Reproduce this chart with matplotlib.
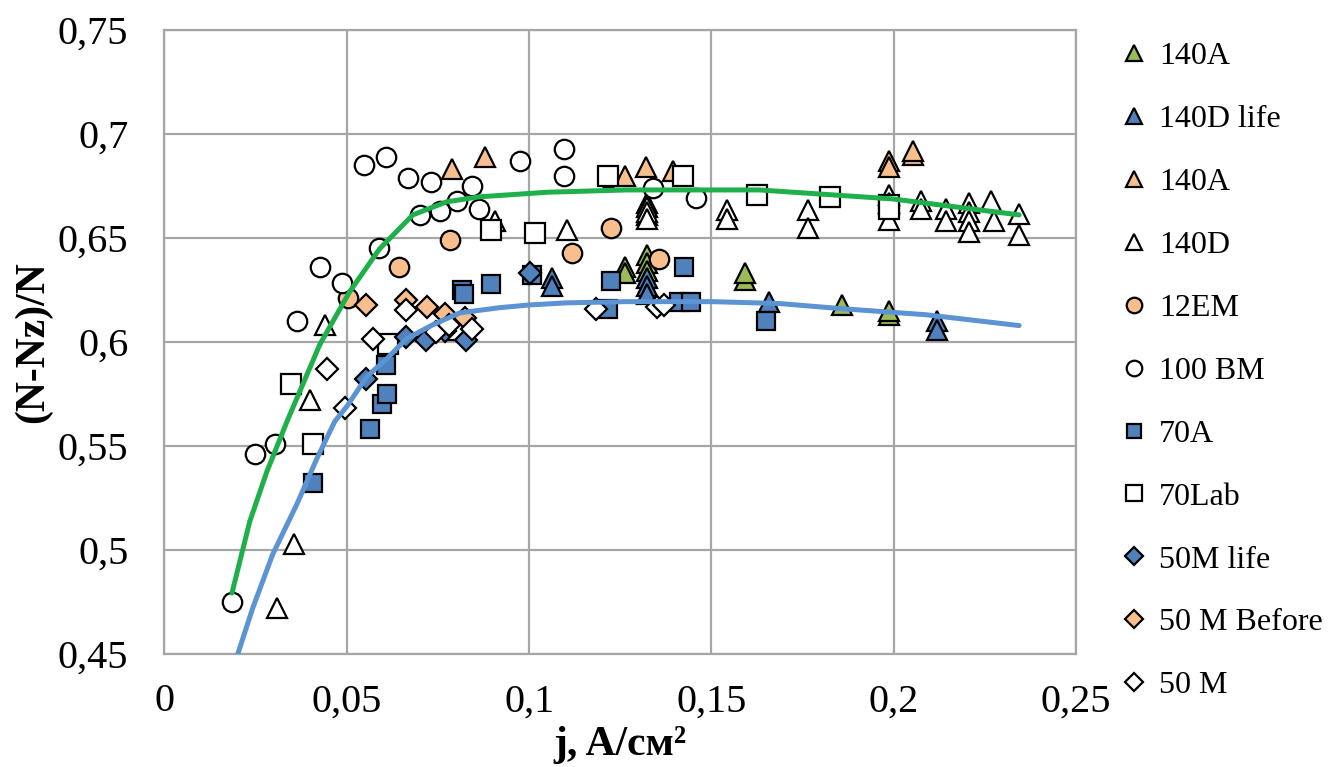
import matplotlib
matplotlib.use("Agg")
import matplotlib.pyplot as plt

# ---- data ----
a140_green_x = [0.1262, 0.1262, 0.1323, 0.1323, 0.1323, 0.1591, 0.1591, 0.1857, 0.1988, 0.1988]
a140_green_y = [0.636, 0.633, 0.642, 0.638, 0.634, 0.630, 0.633, 0.618, 0.613, 0.615]

d140_life_x = [0.1062, 0.1062, 0.1323, 0.1323, 0.1323, 0.1657, 0.2119, 0.2119]
d140_life_y = [0.631, 0.627, 0.631, 0.627, 0.623, 0.619, 0.610, 0.606]

a140_orange_x = [0.0789, 0.0879, 0.1262, 0.1320, 0.1394, 0.1988, 0.1988, 0.2054, 0.2054]
a140_orange_y = [0.683, 0.689, 0.680, 0.684, 0.682, 0.687, 0.684, 0.690, 0.692]

d140_x = [0.0309, 0.0356, 0.0400, 0.0441, 0.0906, 0.1104, 0.1323, 0.1323, 0.1323, 0.1323,
          0.1323, 0.1544, 0.1544, 0.1766, 0.1766, 0.1988, 0.1988, 0.1988, 0.2076, 0.2076,
          0.2144, 0.2144, 0.2207, 0.2207, 0.2207, 0.2207, 0.2267, 0.2275, 0.2344, 0.2344]
d140_y = [0.472, 0.503, 0.572, 0.608, 0.658, 0.654, 0.661, 0.667, 0.665, 0.6625,
          0.659, 0.6635, 0.659, 0.6635, 0.655, 0.6707, 0.6587, 0.667, 0.668, 0.664,
          0.664, 0.658, 0.667, 0.6625, 0.658, 0.653, 0.668, 0.658, 0.6616, 0.6515]

em12_x = [0.0783, 0.0643, 0.0504, 0.1224, 0.1117, 0.1355]
em12_y = [0.649, 0.636, 0.621, 0.655, 0.643, 0.640]

bm100_x = [0.0184, 0.0249, 0.0304, 0.0364, 0.0427, 0.0487, 0.0548, 0.0608, 0.0589, 0.0668, 0.0731,
           0.0701, 0.0756, 0.0802, 0.0843, 0.0863, 0.0975, 0.1095, 0.1095, 0.1216, 0.1339, 0.1457]
bm100_y = [0.475, 0.546, 0.551, 0.610, 0.636, 0.6285, 0.685, 0.689, 0.645, 0.679, 0.677,
           0.661, 0.663, 0.668, 0.675, 0.664, 0.687, 0.693, 0.680, 0.679, 0.674, 0.669]

a70_x = [0.0408, 0.0564, 0.0597, 0.0611, 0.0608, 0.0816, 0.0821, 0.0895, 0.1008, 0.1224,
         0.1216, 0.1424, 0.1410, 0.1443, 0.1651]
a70_y = [0.532, 0.558, 0.570, 0.575, 0.589, 0.625, 0.623, 0.628, 0.632, 0.6295,
         0.616, 0.636, 0.619, 0.619, 0.610]

lab70_x = [0.0348, 0.0408, 0.0613, 0.0800, 0.0895, 0.1016, 0.1216, 0.1421, 0.1624, 0.1824, 0.1988, 0.1988]
lab70_y = [0.580, 0.551, 0.599, 0.606, 0.654, 0.6525, 0.680, 0.680, 0.6707, 0.6698, 0.666, 0.664]

m50_life_x = [0.0553, 0.0663, 0.0717, 0.0769, 0.0827, 0.1002]
m50_life_y = [0.582, 0.6026, 0.601, 0.6055, 0.601, 0.633]

m50_before_x = [0.0553, 0.0663, 0.0720, 0.0769, 0.0824]
m50_before_y = [0.618, 0.620, 0.617, 0.6136, 0.6117]

m50_x = [0.0446, 0.0496, 0.0572, 0.0663, 0.0745, 0.0780, 0.0843, 0.1183, 0.1350, 0.1369]
m50_y = [0.587, 0.5685, 0.6016, 0.6155, 0.605, 0.6083, 0.6064, 0.616, 0.617, 0.618]

# trend curves
green_x = [0.0185, 0.0234, 0.0281, 0.0336, 0.0371, 0.0426, 0.0508, 0.0590, 0.0681, 0.0774,
           0.0864, 0.1050, 0.1267, 0.1631, 0.1996, 0.2344]
green_y = [0.4793, 0.5138, 0.5378, 0.5618, 0.5762, 0.5988, 0.6242, 0.6448, 0.6611, 0.6674,
           0.6698, 0.6720, 0.6731, 0.6731, 0.6688, 0.6611]
blue_x = [0.0201, 0.0242, 0.0297, 0.0363, 0.0418, 0.0467, 0.0500, 0.0555, 0.0610, 0.0664,
          0.0736, 0.0810, 0.0919, 0.1000, 0.1100, 0.1267, 0.1503, 0.1686, 0.1859, 0.2089, 0.2344]
blue_y = [0.450, 0.4721, 0.498, 0.522, 0.544, 0.5618, 0.569, 0.5834, 0.592, 0.6016,
          0.6083, 0.6140, 0.6165, 0.6178, 0.6188, 0.6194, 0.6194, 0.6185, 0.616, 0.6131, 0.6079]

GREEN = "#9BBB59"
BLUE = "#4F81BD"
ORANGE = "#F9BE8E"

plt.rcParams['font.family'] = ['Liberation Serif', 'DejaVu Serif']

fig = plt.figure(figsize=(13.33, 7.67), dpi=100)
ax = fig.add_axes([0.1234, 0.1473, 0.6838, 0.8136])

# (x, y, marker, face, size, label)
series = [
    (a140_green_x, a140_green_y, '^', GREEN, 14, '140A'),
    (d140_life_x, d140_life_y, '^', BLUE, 14, '140D life'),
    (a140_orange_x, a140_orange_y, '^', ORANGE, 14, '140A'),
    (d140_x, d140_y, '^', 'white', 14, '140D'),
    (em12_x, em12_y, 'o', ORANGE, 14, '12EM'),
    (bm100_x, bm100_y, 'o', 'white', 14, '100 BM'),
    (a70_x, a70_y, 's', BLUE, 13, '70A'),
    (lab70_x, lab70_y, 's', 'white', 14, '70Lab'),
    (m50_life_x, m50_life_y, 'D', BLUE, 11, '50M life'),
    (m50_before_x, m50_before_y, 'D', ORANGE, 11, '50 M Before'),
    (m50_x, m50_y, 'D', 'white', 11, '50 M'),
]

for xs, ys, mk, fc, ms, lab in series:
    ax.plot(xs, ys, linestyle='none', marker=mk, markersize=ms, markerfacecolor=fc,
            markeredgecolor='black', markeredgewidth=1.6, label=lab, zorder=3)

ax.plot(green_x, green_y, color="#1FAF4B", lw=3.6, solid_capstyle='round', zorder=4)
ax.plot(blue_x, blue_y, color="#5B93D3", lw=3.6, solid_capstyle='round', zorder=4)

ax.set_xlim(0, 0.25)
ax.set_ylim(0.45, 0.75)
ax.set_xticks([0, 0.05, 0.1, 0.15, 0.2, 0.25])
ax.set_xticklabels(['0', '0,05', '0,1', '0,15', '0,2', '0,25'])
ax.set_yticks([0.45, 0.5, 0.55, 0.6, 0.65, 0.7, 0.75])
ax.set_yticklabels(['0,45', '0,5', '0,55', '0,6', '0,65', '0,7', '0,75'])
ax.tick_params(axis='both', length=0, labelsize=29)
ax.tick_params(axis='y', pad=26)
ax.tick_params(axis='x', pad=21)
ax.grid(True, color='#A6A6A6', lw=1.6, zorder=0)
ax.set_axisbelow(True)
for sp in ax.spines.values():
    sp.set_color('#A6A6A6')
    sp.set_linewidth(1.6)

ax.set_xlabel('j, A/см²', fontsize=30, fontweight='bold', labelpad=4)
ax.set_ylabel('(N-Nz)/N', fontsize=30, fontweight='bold', labelpad=4)

fig.legend(loc='upper left', bbox_to_anchor=(0.83, 0.962), frameon=False,
           fontsize=23, markerscale=0.8, labelspacing=1.05, handlelength=0.9,
           handletextpad=0.35, borderaxespad=0)

fig.savefig('out.png', dpi=100)
